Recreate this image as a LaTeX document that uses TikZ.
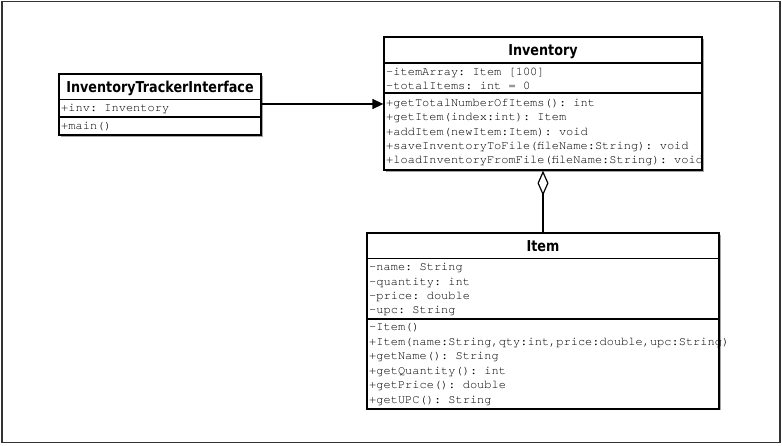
\documentclass[tikz,border=0pt]{standalone}
\usepackage{fontspec}
\setmonofont{TeX Gyre Cursor}
\newfontfamily\titlefont[FakeStretch=0.85]{DejaVu Sans}
\usetikzlibrary{arrows.meta}
\tikzset{
  classbox/.style={draw=black,line width=1.3pt,fill=white,inner sep=0pt},
  shadowbox/.style={fill=black!35,draw=none},
  sepline/.style={draw=black,line width=1.2pt},
  ctitle/.style={font=\titlefont\bfseries\fontsize{15}{17}\selectfont,inner sep=0pt,anchor=base},
  mono/.style={font=\ttfamily\fontsize{12}{14.5}\selectfont,inner sep=0pt,anchor=base west,text=black},
  assoc/.style={line width=1.3pt,-{Triangle[length=11pt,width=10pt]}},
  aggr/.style={line width=1.3pt,{Diamond[open,length=25pt,width=11pt,line width=1.2pt]}-},
}
\begin{document}
\begin{tikzpicture}[x=1pt,y=-1pt]
\useasboundingbox (0,0) rectangle (782,446);
\draw[line width=1.5pt,draw=black!80] (2,1.5) rectangle (780,442.5);

% shadows
\fill[shadowbox] (386,39) rectangle (704,172);
\fill[shadowbox] (61,76) rectangle (263,137);
\fill[shadowbox] (369,235) rectangle (721,410);

% Inventory
\node[classbox,minimum width=318pt,minimum height=133pt] (inv) at (543,103.5) {};
\draw[sepline] (inv.west |- 0,63) -- (inv.east |- 0,63);
\draw[sepline] (inv.west |- 0,93) -- (inv.east |- 0,93);
\node[ctitle] (invt) at (543,55.5) {Inventory};
\node[mono] (inva1) at (386,75.5) {-itemArray: Item [100]};
\node[mono] (inva2) at (386,89.5) {-totalItems: int = 0};
\node[mono] (invm1) at (386,106.5) {+getTotalNumberOfItems(): int};
\node[mono] (invm2) at (386,121) {+getItem(index:int): Item};
\node[mono] (invm3) at (386,135.2) {+addItem(newItem:Item): void};
\node[mono] (invm4) at (386,149.6) {+saveInventoryToFile(fileName:String): void};
\node[mono] (invm5) at (386,164) {+loadInventoryFromFile(fileName:String): void};

% InventoryTrackerInterface
\node[classbox,minimum width=202pt,minimum height=61pt] (iti) at (160,104.5) {};
\draw[sepline] (iti.west |- 0,99.5) -- (iti.east |- 0,99.5);
\draw[sepline] (iti.west |- 0,117) -- (iti.east |- 0,117);
\node[ctitle] (itit) at (160,92.5) {InventoryTrackerInterface};
\node[mono] (itia1) at (61,112) {+inv: Inventory};
\node[mono] (itim1) at (61,130) {+main()};

% Item
\node[classbox,minimum width=352pt,minimum height=176pt] (item) at (543,321) {};
\draw[sepline] (item.west |- 0,258.5) -- (item.east |- 0,258.5);
\draw[sepline] (item.west |- 0,319) -- (item.east |- 0,319);
\node[ctitle] (itemt) at (543,251.5) {Item};
\node[mono] (itema1) at (369,271) {-name: String};
\node[mono] (itema2) at (369,285.5) {-quantity: int};
\node[mono] (itema3) at (369,300) {-price: double};
\node[mono] (itema4) at (369,314) {-upc: String};
\node[mono] (itemm1) at (369,330.5) {-Item()};
\node[mono] (itemm2) at (369,345) {+Item(name:String,qty:int,price:double,upc:String)};
\node[mono] (itemm3) at (369,359.5) {+getName(): String};
\node[mono] (itemm4) at (369,374) {+getQuantity(): int};
\node[mono] (itemm5) at (369,388.5) {+getPrice(): double};
\node[mono] (itemm6) at (369,403) {+getUPC(): String};

% connectors
\draw[assoc] (iti.east |- 0,104) -- (inv.west |- 0,104);
\draw[aggr] (inv.south) -- (item.north);
\end{tikzpicture}
\end{document}
